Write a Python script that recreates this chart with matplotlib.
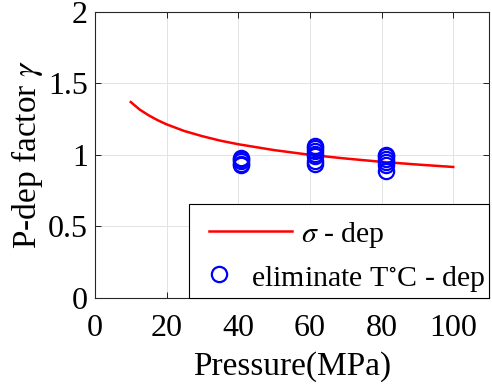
import matplotlib.pyplot as plt
from matplotlib.patches import Rectangle
import numpy as np

plt.rcParams['font.family'] = 'Liberation Serif'
plt.rcParams['mathtext.fontset'] = 'stix'

# sigma-dependent curve
p_curve = [10, 12.5, 15, 17.5, 20, 25, 30, 35, 40, 50, 60, 70, 80, 90, 100]
g_curve = [1.37, 1.317, 1.277, 1.243, 1.214, 1.167, 1.131, 1.100, 1.075, 1.034,
           1.001, 0.975, 0.952, 0.933, 0.916]

# measured points (eliminate T dependence)
p_40 = [40.8] * 5
g_40 = [0.93, 0.94, 0.96, 0.97, 0.98]
p_60 = [61.4] * 7
g_60 = [0.94, 0.96, 0.99, 1.01, 1.03, 1.05, 1.06]
p_80 = [81.3] * 6
g_80 = [0.89, 0.93, 0.95, 0.97, 0.99, 1.0]

labels = [r'$\sigma$ - dep', 'eliminate T$^{\\circ}$C - dep']

fig = plt.figure(figsize=(4.92, 3.85), dpi=100)
ax = fig.add_axes([0.193, 0.226, 0.801, 0.743])

ax.plot(p_curve, g_curve, color='red', lw=1.8)
pts_p = p_40 + p_60 + p_80
pts_g = g_40 + g_60 + g_80
ax.plot(pts_p, pts_g, 'o', mfc='none', mec='blue', ms=11, mew=1.6)

ax.set_xlim(0, 110)
ax.set_ylim(0, 2)
ax.set_xticks([0, 20, 40, 60, 80, 100])
ax.set_yticks([0, 0.5, 1, 1.5, 2])
ax.set_yticklabels(['0', '0.5', '1', '1.5', '2'])
ax.grid(True, color='#e3e3e3', lw=0.7)
ax.set_axisbelow(True)
ax.tick_params(direction='in', top=True, right=True, labelsize=23, length=4, width=0.6, pad=5)
ax.tick_params(axis='x', pad=11.5)
for s in ax.spines.values():
    s.set_linewidth(0.8)
    s.set_color('#262626')

ax.set_xlabel('Pressure(MPa)', fontsize=24, labelpad=6)
ax.set_ylabel('P-dep factor $\\gamma$', fontsize=24, labelpad=2)

# matlab-style legend box, lower right
tr = ax.transAxes
ax.add_patch(Rectangle((0.238, 0), 0.762, 0.328, transform=tr, fc='white',
                       ec='black', lw=0.8, zorder=5, clip_on=False))
ax.plot([0.289, 0.499], [0.234, 0.234], transform=tr, color='red', lw=1.8,
        zorder=6, clip_on=False)
ax.text(0.524, 0.197, labels[0], transform=tr, fontsize=21.5, va='baseline', zorder=6)
ax.plot([0.315], [0.083], 'o', transform=tr, mfc='none', mec='blue', ms=11, mew=1.6,
        zorder=6, clip_on=False)
ax.text(0.397, 0.043, labels[1], transform=tr, fontsize=21.5, va='baseline', zorder=6)

plt.savefig('out.png', dpi=100)
